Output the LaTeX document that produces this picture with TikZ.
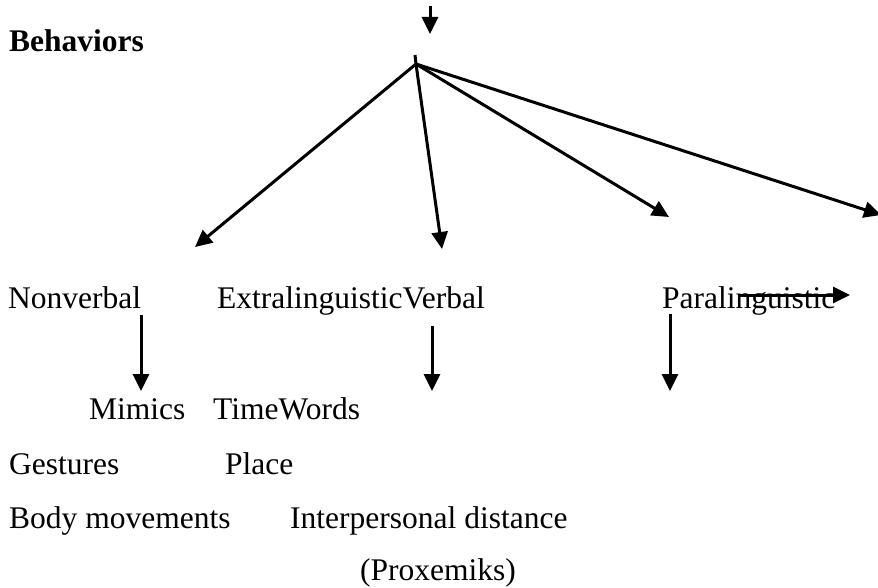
\documentclass[tikz,border=0pt]{standalone}
\usepackage{fontspec}
\setmainfont{Liberation Serif}
\usetikzlibrary{arrows.meta}
\tikzset{
  lbl/.style={anchor=base west,inner sep=0pt,font=\fontsize{31.5}{36}\selectfont},
  arr/.style={line width=3pt,-{Triangle[length=17pt,width=16pt]}},
  ln/.style={line width=3pt}
}
\begin{document}
\begin{tikzpicture}[x=1pt,y=-1pt]
\useasboundingbox (0,0) rectangle (878,588);
% top arrow
\coordinate (t0) at (430,6);
\coordinate (t1) at (430,34);
\draw[arr] (t0) -- (t1);
% title
\node[lbl,font=\fontsize{31.5}{36}\selectfont\bfseries] (beh) at (9,52) {Behaviors};
% hub
\coordinate (hubtop) at (415,55);
\coordinate (hub) at (416,64);
\draw[ln] (hubtop) -- (hub);
\coordinate (e1) at (195,247);
\coordinate (e2) at (442,249);
\coordinate (e3) at (669,217);
\coordinate (e4) at (881,215);
\draw[arr] (hub) -- (e1);
\draw[arr] (hub) -- (e2);
\draw[arr] (hub) -- (e3);
\draw[arr] (hub) -- (e4);
% categories
\node[lbl] (nonverbal) at (8,308) {Nonverbal};
\node[lbl] (extra) at (217,308) {ExtralinguisticVerbal};
\node[lbl] (para) at (662,308) {Paralinguistic};
\coordinate (s0) at (740,295);
\coordinate (s1) at (850,295);
\draw[arr] (s0) -- (s1);
% vertical arrows
\coordinate (v1a) at (141,315);
\coordinate (v1b) at (141,391);
\coordinate (v2a) at (432,326);
\coordinate (v2b) at (432,391);
\coordinate (v3a) at (670,314);
\coordinate (v3b) at (670,391);
\draw[arr] (v1a) -- (v1b);
\draw[arr] (v2a) -- (v2b);
\draw[arr] (v3a) -- (v3b);
% items
\node[lbl] (mimics) at (89,419) {Mimics};
\node[lbl] (timewords) at (213,419) {TimeWords};
\node[lbl] (gestures) at (9,474) {Gestures};
\node[lbl] (place) at (225,474) {Place};
\node[lbl] (body) at (9,528) {Body movements};
\node[lbl] (inter) at (290,528) {Interpersonal distance};
\node[lbl] (prox) at (360,580) {(Proxemiks)};
\end{tikzpicture}
\end{document}
